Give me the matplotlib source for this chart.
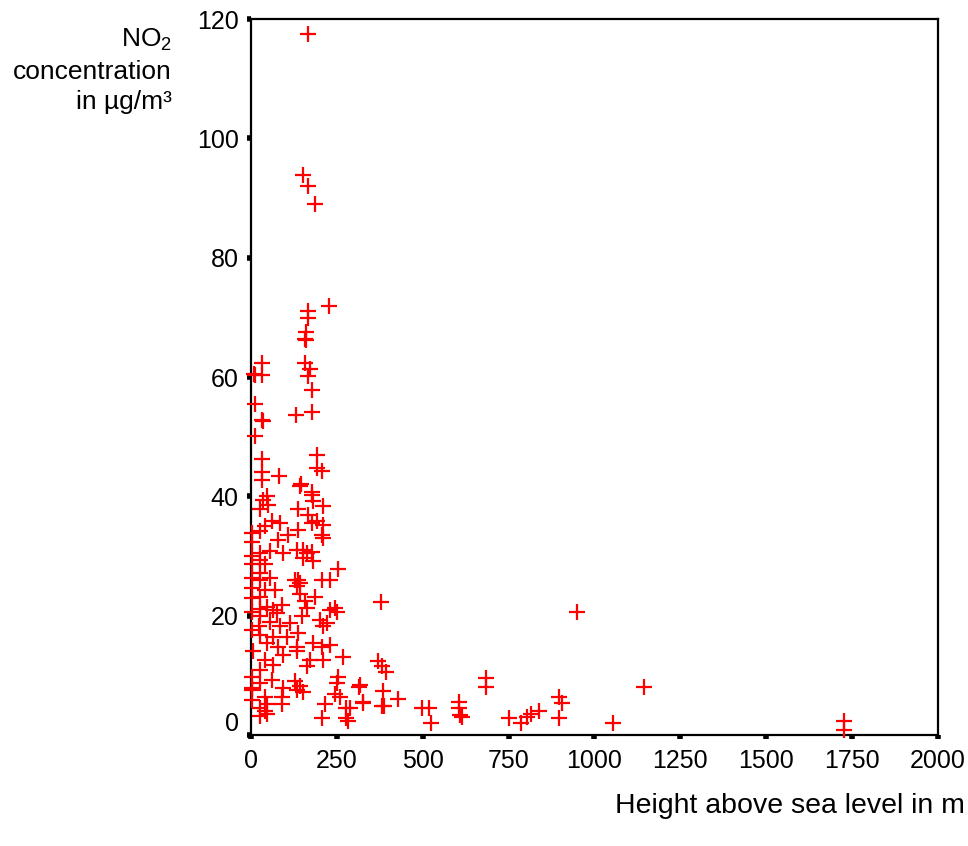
import matplotlib.pyplot as plt
import matplotlib.transforms as mtransforms

plt.rcParams["font.family"] = ["Liberation Sans", "DejaVu Sans"]
plt.rcParams["mathtext.fontset"] = "custom"
plt.rcParams["mathtext.rm"] = "Liberation Sans"
plt.rcParams["mathtext.it"] = "Liberation Sans:italic"

# Data: height above sea level (m) vs NO2 concentration (ug/m3)
height = [
    165, 152, 165, 186,
    227, 165, 165, 159, 157, 161, 157, 172, 165, 179, 130, 179, 193, 193, 206, 145, 179,
    33, 33, 12, 10, 12, 33, 36, 12, 33, 33, 33, 82, 47,
    143, 177, 181, 36, 50, 210, 138, 26, 167, 191, 177, 210, 84, 60, 41, 26,
    109, 138, 210, 206, 80, 3, 3, 133, 152, 162, 177, 181, 152, 94, 55, 26, 26,
    41, 3, 3, 254, 230, 206, 138, 128, 143, 133, 26, 26, 55, 3, 41, 70, 186,
    157, 143, 26, 3, 3, 245, 249, 230, 46, 26, 65, 89, 75, 26, 3, 162, 148,
    201, 220, 210, 113, 55, 22, 84, 3, 138, 26, 65, 104, 181, 230, 206, 133,
    80, 46, 7, 94, 133, 269, 41, 172, 210, 65, 26, 162, 254, 249, 128, 143,
    94, 60, 26, 3, 3, 313, 245, 259, 152, 133, 89, 41, 327, 216, 278, 46, 26,
    89, 26, 46, 41, 206, 278, 3, 3,
    378, 371, 380, 393, 317, 385, 429, 325, 382, 388, 288, 283,
    497, 519, 523, 606, 606, 608, 613, 683, 683, 752, 786, 803, 816, 838,
    898, 904, 898, 950, 1055, 1144, 1726, 1726,
]
no2 = [
    117.5, 93.9, 92.0, 89.0,
    71.9, 71.0, 69.9, 67.5, 66.3, 66.2, 62.4, 61.3, 60.1, 57.9, 53.7, 54.1, 47.0, 44.8, 44.2, 42.0, 40.8,
    62.4, 60.4, 60.4, 60.5, 55.4, 52.8, 52.6, 50.1, 46.2, 44.0, 42.8, 43.4, 40.0,
    41.8, 40.3, 39.2, 39.4, 38.6, 38.3, 37.8, 37.8, 36.9, 35.8, 35.6, 35.2, 35.5, 35.8, 35.0, 34.2,
    33.6, 34.4, 33.0, 33.5, 32.7, 33.9, 32.4, 31.0, 31.0, 30.5, 30.7, 29.1, 29.6, 30.5, 30.8, 30.5, 29.4,
    28.6, 30.0, 28.6, 27.8, 26.0, 26.0, 26.0, 26.0, 25.4, 24.9, 27.2, 26.0, 26.3, 26.3, 24.3, 24.3, 23.2,
    22.4, 23.6, 23.2, 24.6, 23.0, 21.3, 20.7, 21.0, 21.5, 21.2, 21.0, 21.8, 20.4, 19.9, 20.7, 21.3, 19.9,
    19.3, 18.7, 18.2, 18.7, 19.0, 18.2, 18.2, 17.6, 17.1, 16.8, 16.5, 16.5, 15.4, 15.1, 14.8, 14.8,
    14.8, 15.4, 14.0, 13.4, 14.0, 13.1, 12.6, 12.6, 12.6, 11.8, 10.9, 11.5, 9.8, 8.7, 9.0, 8.2,
    7.9, 9.2, 8.7, 9.8, 7.9, 8.0, 6.9, 6.3, 7.2, 7.5, 6.3, 6.3, 5.6, 5.2, 4.6, 5.2, 4.6,
    5.2, 3.2, 3.5, 4.1, 2.8, 2.8, 5.8, 7.6,
    22.3, 12.4, 11.5, 10.5, 8.4, 7.4, 6.0, 5.3, 4.9, 4.9, 4.5, 2.4,
    4.5, 4.5, 2.0, 5.6, 4.5, 3.4, 3.0, 9.6, 8.1, 2.9, 2.0, 3.1, 3.6, 4.1,
    6.4, 5.4, 2.8, 20.7, 2.0, 8.0, 2.3, 0.8,
]
x_ticks = [0, 250, 500, 750, 1000, 1250, 1500, 1750, 2000]
y_ticks = [0, 20, 40, 60, 80, 100, 120]

fig = plt.figure(figsize=(9.68, 8.46), dpi=100)
ax = fig.add_axes([0.2593, 0.1312, 0.7097, 0.8463])

ax.plot(height, no2, linestyle="none", marker="+", color="#ff0000",
        markersize=11.5, markeredgewidth=1.6, clip_on=False, zorder=3)

ax.set_xlim(0, 2000)
ax.set_ylim(0, 120)
ax.set_xticks(x_ticks)
ax.set_yticks(y_ticks)

for s in ax.spines.values():
    s.set_linewidth(1.6)
ax.tick_params(direction="out", length=3, width=4, labelsize=18)
ax.tick_params(axis="x", pad=7)
ax.tick_params(axis="y", pad=6)

# the "0" on the y axis sits a bit higher than its tick
lbl0 = ax.get_yticklabels()[0]
lbl0.set_transform(lbl0.get_transform() +
                   mtransforms.ScaledTranslation(0, 14 / 100, fig.dpi_scale_trans))

fig.text(172 / 968, 1 - 40 / 846, "NO$_2$", ha="right", va="center", fontsize=19)
fig.text(172 / 968, 1 - 72 / 846, "concentration", ha="right", va="center", fontsize=19)
fig.text(172 / 968, 1 - 102 / 846, "in µg/m³", ha="right", va="center", fontsize=19)
fig.text(965 / 968, 1 - 806 / 846, "Height above sea level in m",
         ha="right", va="center", fontsize=20.5)

plt.savefig("out.png", dpi=100)
